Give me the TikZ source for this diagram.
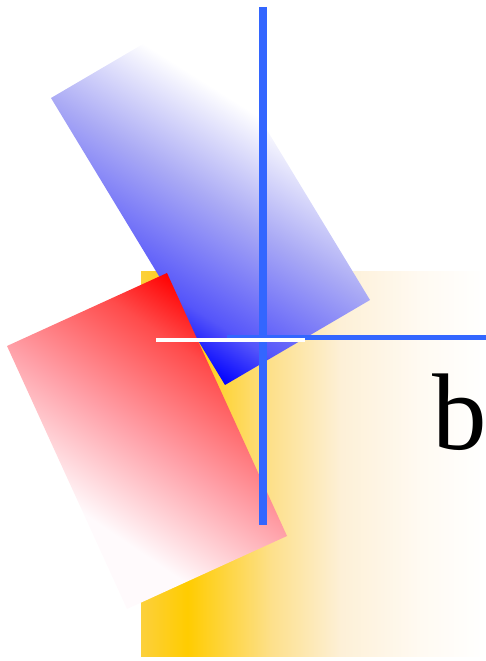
\documentclass[tikz,border=0pt]{standalone}
\usepackage{fontspec}
\setmainfont{Liberation Serif}
\definecolor{lineblue}{RGB}{51,102,255}
\definecolor{ya}{RGB}{252,208,60}
\definecolor{yb}{RGB}{255,204,0}
\definecolor{yc}{RGB}{253,224,140}
\definecolor{yd}{RGB}{253,240,215}
\definecolor{ye}{RGB}{255,250,242}
\definecolor{bmid}{RGB}{170,170,245}
\definecolor{bq}{RGB}{85,85,250}
\definecolor{rmid}{RGB}{255,160,168}
\definecolor{rq}{RGB}{255,75,75}
\definecolor{rend}{RGB}{255,250,252}
\pgfdeclarehorizontalshading{yelshade}{100bp}{color(0bp)=(ya); color(25bp)=(ya); color(31.7bp)=(yb); color(44bp)=(yc); color(54bp)=(yd); color(65.5bp)=(ye); color(75bp)=(white); color(100bp)=(white)}
\pgfdeclareverticalshading{blueshade}{100bp}{color(0bp)=(blue); color(25bp)=(blue); color(33bp)=(bq); color(50bp)=(bmid); color(66bp)=(white); color(100bp)=(white)}
\pgfdeclareverticalshading{redshade}{100bp}{color(0bp)=(red); color(25bp)=(red); color(34bp)=(rq); color(50bp)=(rmid); color(66bp)=(rend); color(100bp)=(rend)}
\begin{document}
\begin{tikzpicture}[x=1pt,y=1pt,
  vline/.style={draw=lineblue,line width=7.5pt},
  hline/.style={draw=lineblue,line width=5pt},
  wline/.style={draw=white,line width=4.5pt}]
\useasboundingbox (0,0) rectangle (486,661);
% yellow panel
\shade[shading=yelshade] (141,4) rectangle (486,389);
% blue tilted rectangle
\begin{scope}
  \clip (51,563) -- (196,648) -- (370,361) -- (225,276) -- cycle;
  \shade[transform canvas={shift={(225,276)},rotate=-32.3},shading=blueshade]
         (-400,0) rectangle (400,299);
\end{scope}
% red tilted rectangle
\begin{scope}
  \clip (167,388) -- (7,315) -- (127,52) -- (287,125) -- cycle;
  \shade[transform canvas={shift={(167,388)},rotate=145.8},shading=redshade]
         (-400,300) rectangle (400,0);
\end{scope}
% lines
\coordinate (vtop) at (263,654);
\coordinate (vbot) at (263,136);
\coordinate (hl) at (227,323);
\coordinate (hr) at (486,323);
\coordinate (wl) at (156,321);
\coordinate (wr) at (305,321);
\draw[vline] (vtop) -- (vbot);
\draw[hline] (hl) -- (hr);
\draw[wline] (wl) -- (wr);
% label
\node[anchor=base west,inner sep=0pt,font=\fontsize{109}{115}\selectfont] (lb) at (432,211) {b};
\end{tikzpicture}
\end{document}
